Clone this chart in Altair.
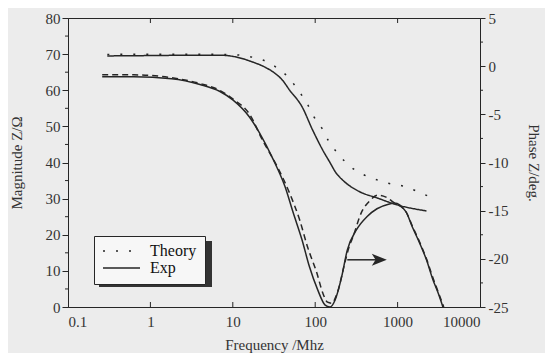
import altair as alt
import pandas as pd

# ---------------- data ----------------
mag_exp_f = [0.3, 1, 3.2, 6.9, 11, 17, 25, 32, 40, 49, 69, 93, 123, 151, 178, 214, 347, 562, 977, 2240]
mag_exp_v = [69.5, 69.6, 69.7, 69.7, 69.2, 67.9, 66.3, 64.8, 62.8, 60.0, 55.5, 49.0, 43.5, 40.0, 37.2, 35.2, 31.9, 30.2, 28.3, 26.6]

mag_th_f = [0.3, 1, 3.2, 7.9, 11, 16, 23, 33, 48, 63, 79, 95, 120, 145, 190, 263, 389, 562, 794, 1150, 1700, 2450]
mag_th_v = [69.9, 70.0, 70.0, 69.9, 69.8, 69.3, 68.4, 66.5, 63.4, 59.8, 56.5, 52.9, 49.6, 46.0, 42.4, 39.0, 36.6, 35.2, 34.2, 33.5, 32.1, 30.5]

ph_exp_f = [0.26, 0.63, 1.8, 4.0, 6.9, 10, 16, 21, 31, 43, 54, 69, 85, 107, 132, 151, 174, 209, 245, 316,
            427, 562, 794, 912, 1260, 1510, 1860, 2240, 2690, 3090, 3550]
ph_exp_v = [-1.1, -1.1, -1.3, -1.9, -2.6, -3.5, -5.3, -6.9, -9.7, -12.5, -15.2, -18.0, -20.8, -23.2, -24.8, -25.0,
            -24.3, -21.9, -19.1, -17.0, -15.6, -14.8, -14.3, -14.2, -15.1, -16.7, -18.4, -20.1, -22.2, -23.5, -25.0]

ph_th_f = [0.26, 0.63, 1.8, 4.0, 6.9, 10, 16, 23, 35, 49, 65, 81, 105, 123, 141, 158, 186, 229, 257, 288,
           363, 457, 575, 724, 912, 1260, 1510, 1860, 2240, 2690, 3160, 3630]
ph_th_v = [-0.9, -0.9, -1.2, -1.8, -2.5, -3.4, -5.0, -7.7, -10.5, -13.2, -16.0, -18.8, -21.5, -23.5, -24.5, -24.6,
           -23.5, -20.4, -18.8, -17.7, -15.2, -14.0, -13.4, -13.6, -14.2, -15.1, -16.6, -18.3, -20.0, -22.0, -23.6, -25.0]

legend_labels = ["Theory", "Exp"]
x_ticks = [0.1, 1, 10, 100, 1000, 10000]
x_inner_ticks = [1, 10, 100, 1000]
mag_ticks = [0, 10, 20, 30, 40, 50, 60, 70, 80]
mag_minor = [5, 15, 25, 35, 45, 55, 65, 75]
ph_ticks = [5, 0, -5, -10, -15, -20, -25]
ph_minor = [2.5, -2.5, -7.5, -12.5, -17.5, -22.5]
arrow_f = [245, 560]
arrow_head_f = [600]
arrow_v = -20.1

FONT = "Liberation Serif"
INK = "#262626"
W, H = 412, 289

mag_df = pd.DataFrame({
    "f": mag_th_f + mag_exp_f,
    "v": mag_th_v + mag_exp_v,
    "s": ["Theory"] * len(mag_th_f) + ["Exp"] * len(mag_exp_f),
})
ph_exp_df = pd.DataFrame({"f": ph_exp_f, "v": ph_exp_v})
ph_th_df = pd.DataFrame({"f": ph_th_f, "v": ph_th_v})

xE = alt.X("f:Q",
           scale=alt.Scale(type="log", domain=[0.1, 10000], nice=False),
           axis=alt.Axis(title="Frequency /Mhz", values=x_ticks, labelExpr="datum.value + ''",
                         ticks=False, labelPadding=7, titlePadding=8, grid=False))

yL = alt.Y("v:Q", scale=alt.Scale(domain=[0, 80], nice=False),
           axis=alt.Axis(title="Magnitude Z/Ω", orient="left", values=mag_ticks, tickSize=6,
                         labelPadding=2, titlePadding=21, grid=False))

yR = alt.Y("v:Q", scale=alt.Scale(domain=[-25, 5], nice=False),
           axis=alt.Axis(title="Phase Z/deg.", orient="right", values=ph_ticks, tickSize=5,
                         labelPadding=3, titlePadding=18, grid=False, labelExpr="datum.value + ''"))

one = pd.DataFrame({"a": [0]})

# legend shadow
shadow = alt.Chart(one).mark_rect(color="#333333").encode(
    x=alt.value(31), x2=alt.value(144), y=alt.value(223), y2=alt.value(269))

mag_lines = alt.Chart(mag_df).mark_line(color=INK, strokeWidth=1.5, interpolate="monotone").encode(
    x=xE, y=yL,
    strokeDash=alt.StrokeDash("s:N",
        scale=alt.Scale(domain=legend_labels, range=[[2, 11], [1, 0]]),
        legend=alt.Legend(title=None, orient="none", legendX=26, legendY=218,
                          symbolType="stroke", symbolSize=1369, symbolStrokeWidth=1.5,
                          symbolStrokeColor=INK, labelFont=FONT, labelFontSize=16,
                          labelColor="#111111", labelOffset=9, padding=8, rowPadding=1,
                          clipHeight=14,
                          fillColor="#f7f7f7", strokeColor=INK)),
    order=alt.Order("f:Q"),
)

left_minor = alt.Chart(pd.DataFrame({"v": mag_minor})).mark_rule(color=INK).encode(
    y=yL, x=alt.value(-3), x2=alt.value(0))

top_ticks = alt.Chart(pd.DataFrame({"f": x_inner_ticks})).mark_rule(color=INK).encode(
    x=xE, y=alt.value(0), y2=alt.value(5))
bot_ticks = alt.Chart(pd.DataFrame({"f": x_inner_ticks})).mark_rule(color=INK).encode(
    x=xE, y=alt.value(H - 5), y2=alt.value(H))

left = alt.layer(shadow, mag_lines, left_minor, top_ticks, bot_ticks)

ph_exp = alt.Chart(ph_exp_df).mark_line(color=INK, strokeWidth=1.5, interpolate="monotone").encode(
    x=xE, y=yR)
ph_th = alt.Chart(ph_th_df).mark_line(color=INK, strokeWidth=1.5, interpolate="monotone",
                                      strokeDash=[6, 4]).encode(x=xE, y=yR)

arrow_line = alt.Chart(pd.DataFrame({"f": [arrow_f[0]], "f2": [arrow_f[1]], "v": [arrow_v]})).mark_rule(
    color=INK, strokeWidth=1.5).encode(x=xE, x2="f2:Q", y=yR)
arrow_head = alt.Chart(pd.DataFrame({"f": arrow_head_f, "v": [arrow_v]})).mark_point(
    shape="M-1,-0.8L1,0L-1,0.8L-0.5,0Z", filled=True, color=INK, opacity=1, size=225).encode(
    x=xE, y=yR)

right_minor = alt.Chart(pd.DataFrame({"v": ph_minor})).mark_rule(color=INK).encode(
    y=yR, x=alt.value(W), x2=alt.value(W + 3))

right = alt.layer(ph_exp, ph_th, arrow_line, arrow_head, right_minor)

chart = alt.layer(left, right).resolve_scale(y="independent").properties(
    width=W, height=H,
    autosize=alt.AutoSizeParams(type="none"),
    padding={"left": 60, "top": 10, "right": 65, "bottom": 46},
    background="#ececec",
).configure_view(stroke=INK, strokeWidth=1).configure_axis(
    labelFont=FONT, labelFontSize=15, labelColor="#333333",
    titleFont=FONT, titleFontSize=15, titleFontWeight="normal", titleColor="#333333",
    domainColor=INK, tickColor=INK,
)

chart.save("out.html", embed_options={"renderer": "svg", "actions": False})
